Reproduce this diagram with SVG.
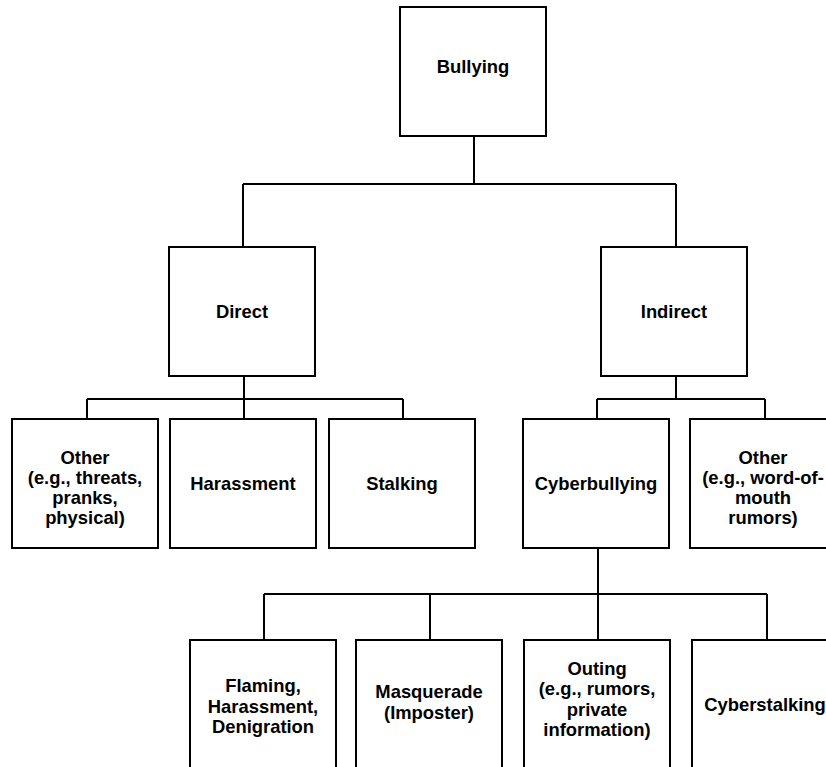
<svg xmlns="http://www.w3.org/2000/svg" width="826" height="767" viewBox="0 0 826 767">
<style>
.box{fill:#fff;stroke:#000;stroke-width:2}
.conn{fill:none;stroke:#000;stroke-width:2}
text{font-family:"Liberation Sans",Arial,sans-serif;font-weight:bold;font-size:18.4px;text-anchor:middle;fill:#000}
</style>
<rect width="826" height="767" fill="#fff"/>
<g id="connectors">
<path class="conn" d="M474,136V184M243,184H676M243,184V247M676,184V247"/>
<path class="conn" d="M244,376V419M87,399H403M87,399V419M403,399V419"/>
<path class="conn" d="M676,376V399M597,399H765M597,399V419M765,399V419"/>
<path class="conn" d="M598,548V640M264,594H767M264,594V640M430,594V640M767,594V640"/>
</g>
<g id="bullying"><rect class="box" x="400" y="7" width="146" height="129"/><text x="473" y="73">Bullying</text></g>
<g id="direct"><rect class="box" x="169" y="247" width="146" height="129"/><text x="242" y="318">Direct</text></g>
<g id="indirect"><rect class="box" x="601" y="247" width="146" height="129"/><text x="674" y="318">Indirect</text></g>
<g id="other-direct"><rect class="box" x="12" y="419" width="146" height="129"/><text x="85" y="463.5">Other</text><text x="85" y="483.5">(e.g., threats,</text><text x="85" y="503.5">pranks,</text><text x="85" y="523.5">physical)</text></g>
<g id="harassment"><rect class="box" x="170" y="419" width="146" height="129"/><text x="243" y="490">Harassment</text></g>
<g id="stalking"><rect class="box" x="329" y="419" width="146" height="129"/><text x="402" y="490">Stalking</text></g>
<g id="cyberbullying"><rect class="box" x="523" y="419" width="146" height="129"/><text x="596" y="490">Cyberbullying</text></g>
<g id="other-indirect"><rect class="box" x="690" y="419" width="146" height="129"/><text x="763" y="463.5">Other</text><text x="763" y="483.5">(e.g., word-of-</text><text x="763" y="503.5">mouth</text><text x="763" y="523.5">rumors)</text></g>
<g id="flaming"><rect class="box" x="190" y="640" width="146" height="129"/><text x="263" y="692">Flaming,</text><text x="263" y="712.5">Harassment,</text><text x="263" y="733">Denigration</text></g>
<g id="masquerade"><rect class="box" x="356" y="640" width="146" height="129"/><text x="429" y="698">Masquerade</text><text x="429" y="718.5">(Imposter)</text></g>
<g id="outing"><rect class="box" x="524" y="640" width="146" height="129"/><text x="597" y="675">Outing</text><text x="597" y="695.3">(e.g., rumors,</text><text x="597" y="715.6">private</text><text x="597" y="736">information)</text></g>
<g id="cyberstalking"><rect class="box" x="692" y="640" width="146" height="129"/><text x="765" y="711">Cyberstalking</text></g>
</svg>
